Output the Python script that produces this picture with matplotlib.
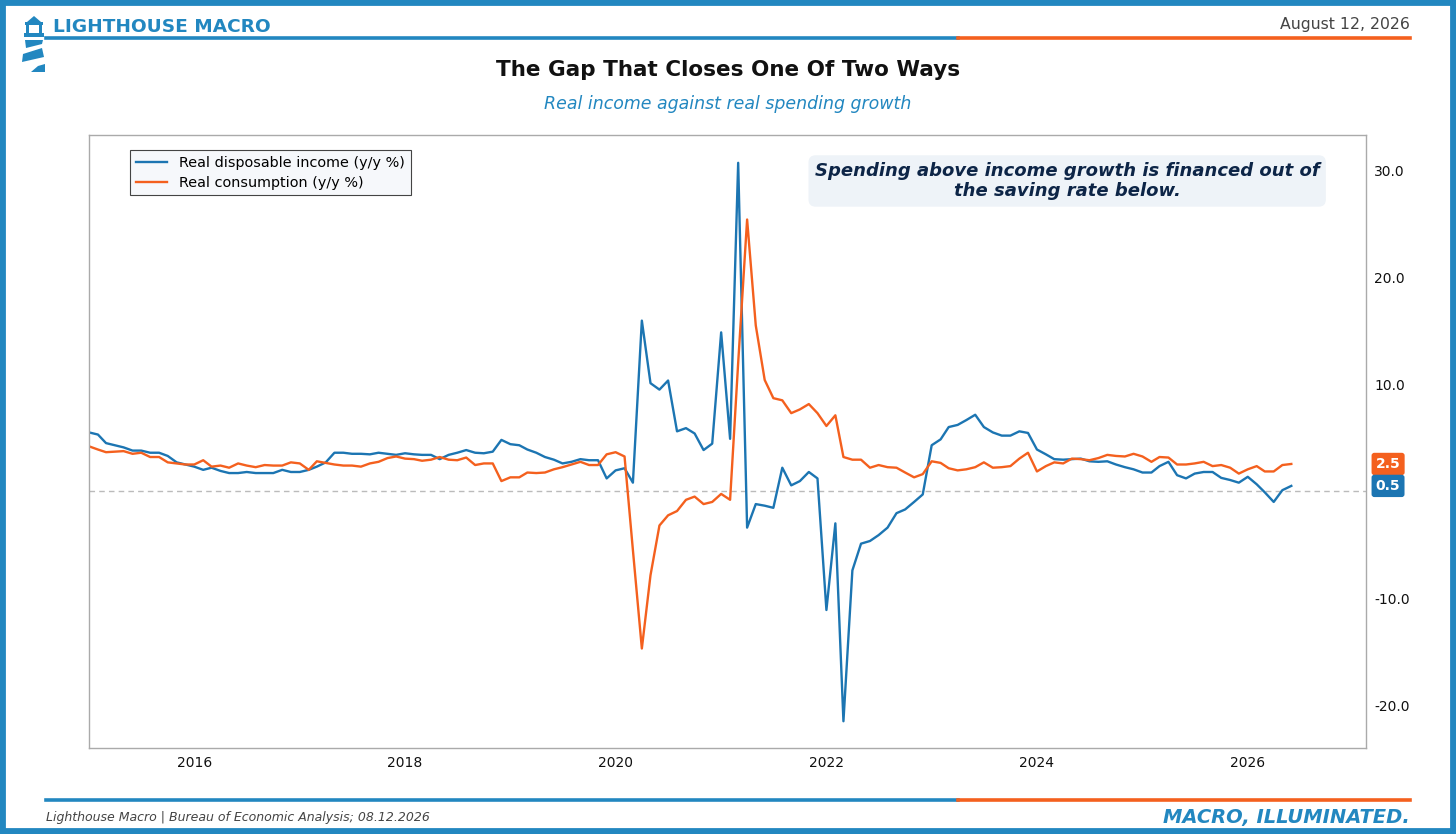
import pandas as pd
import matplotlib
matplotlib.use("Agg")
from matplotlib import pyplot as plt
from matplotlib.patches import Polygon, Rectangle
from matplotlib.lines import Line2D
from matplotlib.ticker import FuncFormatter
import matplotlib.dates as mdates

# monthly y/y % changes, Jan 2015 .. Jun 2026
start_month = "2015-01-01"

income_yoy = [
    5.5, 5.3, 4.5, 4.3, 4.1, 3.8, 3.8, 3.6, 3.6, 3.3, 2.7, 2.5,
    2.3, 2.0, 2.2, 1.9, 1.7, 1.7, 1.8, 1.7, 1.7, 1.7, 2.0, 1.8,
    1.8, 2.0, 2.3, 2.7, 3.6, 3.6, 3.5, 3.5, 3.45, 3.6, 3.5, 3.4,
    3.55, 3.45, 3.4, 3.4, 3.0, 3.4, 3.6, 3.85, 3.6, 3.55, 3.7, 4.8,
    4.4, 4.3, 3.9, 3.6, 3.2, 2.95, 2.6, 2.75, 3.0, 2.9, 2.9, 1.2,
    1.95, 2.15, 0.8, 15.95, 10.1, 9.5, 10.35, 5.6, 5.9, 5.4, 3.85, 4.45,
    14.85, 4.9, 30.7, -3.4, -1.2, -1.35, -1.55, 2.2, 0.55, 0.95, 1.8, 1.2,
    -11.1, -3.0, -21.5, -7.4, -4.9, -4.65, -4.1, -3.4, -2.05, -1.7, -1.0, -0.3,
    4.3, 4.85, 6.0, 6.2, 6.65, 7.15, 6.0, 5.5, 5.2, 5.2, 5.6, 5.45,
    3.9, 3.45, 3.0, 2.95, 3.0, 3.05, 2.8, 2.75, 2.8, 2.5, 2.25, 2.05,
    1.75, 1.75, 2.35, 2.75, 1.5, 1.2, 1.65, 1.8, 1.8, 1.25, 1.05, 0.8,
    1.35, 0.65, -0.1, -1.0, 0.1, 0.5,
]

consumption_yoy = [
    4.2, 3.9, 3.65, 3.7, 3.75, 3.5, 3.6, 3.2, 3.2, 2.7, 2.6, 2.5,
    2.5, 2.9, 2.3, 2.4, 2.2, 2.6, 2.4, 2.25, 2.45, 2.4, 2.4, 2.7,
    2.6, 2.0, 2.8, 2.65, 2.5, 2.4, 2.4, 2.3, 2.6, 2.75, 3.1, 3.25,
    3.05, 3.0, 2.85, 2.95, 3.2, 2.95, 2.9, 3.15, 2.45, 2.6, 2.6, 0.95,
    1.3, 1.3, 1.75, 1.7, 1.75, 2.05, 2.25, 2.5, 2.75, 2.45, 2.45, 3.45,
    3.65, 3.25, -5.5, -14.7, -7.85, -3.2, -2.25, -1.85, -0.8, -0.5, -1.2, -1.0,
    -0.25, -0.8, 12.0, 25.4, 15.5, 10.4, 8.7, 8.5, 7.3, 7.65, 8.15, 7.3,
    6.1, 7.1, 3.2, 2.95, 2.95, 2.2, 2.45, 2.25, 2.2, 1.75, 1.3, 1.6,
    2.8, 2.65, 2.15, 1.95, 2.05, 2.25, 2.7, 2.2, 2.25, 2.35, 3.05, 3.6,
    1.85, 2.35, 2.7, 2.6, 3.05, 3.0, 2.9, 3.1, 3.4, 3.3, 3.25, 3.5,
    3.25, 2.75, 3.2, 3.15, 2.5, 2.5, 2.6, 2.75, 2.35, 2.45, 2.2, 1.65,
    2.05, 2.35, 1.85, 1.85, 2.45, 2.55,
]

series_labels = ["Real disposable income (y/y %)", "Real consumption (y/y %)"]
y_ticks = [-20, -10, 0, 10, 20, 30]

BLUE = "#1c75b2"
ORANGE = "#f4601e"
FRAME = "#2287c0"
NAVY = "#0d2547"

W, H = 1456, 834


def px(x, y):
    # pixel position (top-left origin) -> figure fraction
    return (x / W, 1 - y / H)


dates = pd.date_range(start_month, periods=len(income_yoy), freq="MS")

fig = plt.figure(figsize=(W / 100, H / 100), dpi=100, facecolor="white")

# outer frame
fig.add_artist(Rectangle((0, 0), 1, 1, transform=fig.transFigure, fill=False,
                         edgecolor=FRAME, lw=8.5, zorder=10))

# header / footer rules
for yy in (38, 800):
    fig.add_artist(Line2D([46 / W, 958 / W], [1 - yy / H] * 2, color=FRAME, lw=2.6))
    fig.add_artist(Line2D([958 / W, 1410 / W], [1 - yy / H] * 2, color=ORANGE, lw=2.6))

# lighthouse icon
icon = [
    [(27, 22), (34, 16), (41, 22)],
    [(25, 22), (43, 22), (43, 25), (25, 25)],
    [(26, 25), (29, 25), (29, 33), (26, 33)],
    [(39, 25), (42, 25), (42, 33), (39, 33)],
    [(24, 33), (44, 33), (44, 37), (24, 37)],
    [(25, 40), (43, 40), (42, 44), (26, 48)],
    [(23, 54), (42, 48), (44, 57), (22, 62)],
    [(38, 66), (45, 64), (45, 72), (31, 72)],
]
for poly in icon:
    fig.add_artist(Polygon([px(*p) for p in poly], closed=True, transform=fig.transFigure,
                           facecolor=FRAME, edgecolor="none"))

fig.text(*px(53, 27), "LIGHTHOUSE MACRO", color=FRAME, fontsize=13.3, fontweight="bold",
         ha="left", va="center")
fig.text(*px(1410, 25), "August 12, 2026", color="#444444", fontsize=11.3,
         ha="right", va="center")
fig.text(*px(728, 70), "The Gap That Closes One Of Two Ways", color="#111111",
         fontsize=15.5, fontweight="bold", ha="center", va="center")
fig.text(*px(728, 104), "Real income against real spending growth", color=FRAME,
         fontsize=12.5, style="italic", ha="center", va="center")
fig.text(*px(46, 818), "Lighthouse Macro | Bureau of Economic Analysis; 08.12.2026",
         color="#444444", fontsize=9, style="italic", ha="left", va="center")
fig.text(*px(1410, 818), "MACRO, ILLUMINATED.", color=FRAME, fontsize=14,
         fontweight="bold", style="italic", ha="right", va="center")

ax = fig.add_axes([89 / W, 1 - 748 / H, (1366 - 89) / W, (748 - 135) / H])
ax.plot(dates, income_yoy, color=BLUE, lw=1.7, label=series_labels[0])
ax.plot(dates, consumption_yoy, color=ORANGE, lw=1.7, label=series_labels[1])
ax.axhline(0, color="#bbbbbb", lw=1, ls=(0, (4, 3)), zorder=0)

ax.set_xlim(dates[0], pd.Timestamp("2027-02-15"))
ax.set_ylim(-24.0, 33.3)
ax.set_yticks(y_ticks)
ax.yaxis.set_major_formatter(FuncFormatter(lambda v, _: f"{v:.1f}"))
ax.yaxis.tick_right()
ax.xaxis.set_major_locator(mdates.YearLocator(2))
ax.xaxis.set_major_formatter(mdates.DateFormatter("%Y"))
ax.tick_params(axis="both", length=0, labelsize=10, colors="#111111")
ax.tick_params(axis="y", pad=6)
ax.tick_params(axis="x", pad=6)
for sp in ax.spines.values():
    sp.set_color("#aaaaaa")
    sp.set_linewidth(1)

leg = ax.legend(loc="upper left", bbox_to_anchor=(0.032, 0.9755), borderaxespad=0,
                fontsize=10.4, frameon=True, fancybox=False, edgecolor="#444444",
                facecolor="#f6f8fb", framealpha=1, borderpad=0.4, handlelength=2.2,
                labelspacing=0.4)
leg.get_frame().set_linewidth(0.8)

ax.text(0.766, 0.925, "Spending above income growth is financed out of\nthe saving rate below.",
        transform=ax.transAxes, ha="center", va="center", fontsize=13,
        fontweight="bold", style="italic", color=NAVY, linespacing=1.2,
        bbox=dict(boxstyle="round,pad=0.35,rounding_size=0.4", facecolor="#eef3f8",
                  edgecolor="none"))

# last-value badges
for vals, col in ((consumption_yoy, ORANGE), (income_yoy, BLUE)):
    ax.annotate(f"{vals[-1]:.1f}", xy=(1.0, vals[-1]), xycoords=("axes fraction", "data"),
                xytext=(7, 0), textcoords="offset points", ha="left", va="center",
                fontsize=10, fontweight="bold", color="white", zorder=5,
                bbox=dict(boxstyle="round,pad=0.3,rounding_size=0.2", facecolor=col,
                          edgecolor="none"), annotation_clip=False)

fig.savefig("out.png", dpi=100, facecolor="white")
